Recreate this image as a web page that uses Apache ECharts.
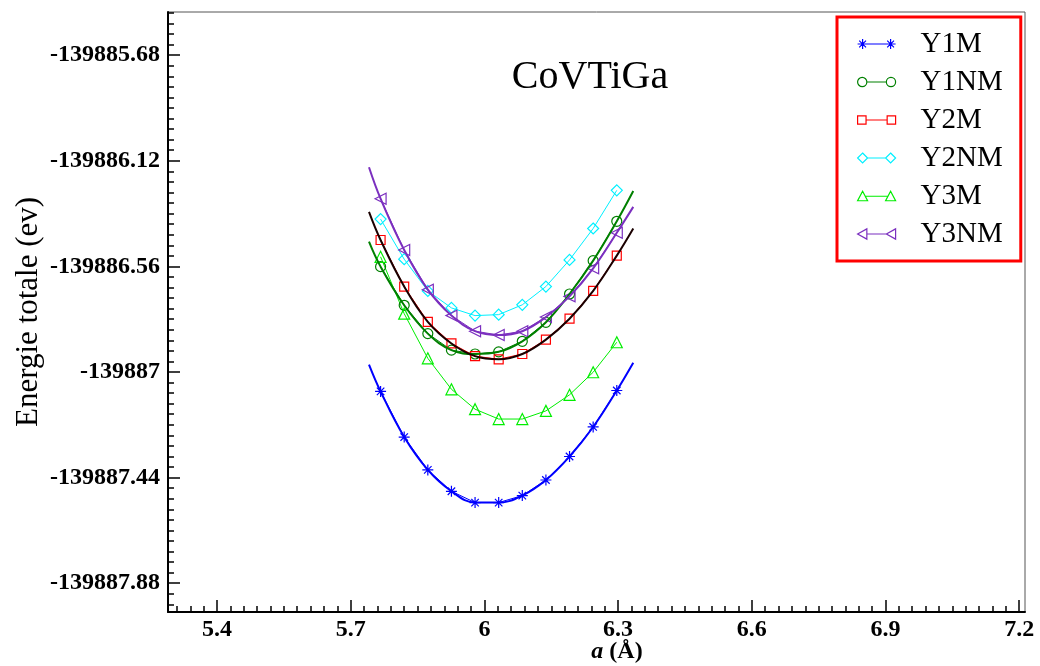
<!DOCTYPE html>
<html>
<head>
<meta charset="utf-8">
<script src="https://cdn.jsdelivr.net/npm/echarts@6/dist/echarts.min.js"></script>
<style>
  html, body { margin: 0; padding: 0; background: #fff; }
  #chart { width: 1040px; height: 666px; }
</style>
</head>
<body>
<div id="chart"></div>
<script>
// lattice parameter a (Å) of the computed points
const xs = [5.767, 5.82, 5.873, 5.926, 5.979, 6.032, 6.085, 6.138, 6.191, 6.244, 6.297];

// total energies (eV)
const y1m  = [-139887.081, -139887.271, -139887.408, -139887.497, -139887.544, -139887.544, -139887.515, -139887.450, -139887.352, -139887.229, -139887.077];
const y1nm = [-139886.561, -139886.722, -139886.840, -139886.909, -139886.925, -139886.916, -139886.872, -139886.793, -139886.675, -139886.536, -139886.372];
const y2m  = [-139886.450, -139886.644, -139886.791, -139886.881, -139886.934, -139886.947, -139886.925, -139886.865, -139886.778, -139886.662, -139886.515];
const y2nm = [-139886.363, -139886.530, -139886.662, -139886.733, -139886.765, -139886.761, -139886.720, -139886.644, -139886.533, -139886.402, -139886.243];
const y3m  = [-139886.520, -139886.757, -139886.943, -139887.072, -139887.155, -139887.196, -139887.196, -139887.162, -139887.095, -139887.001, -139886.876];
const y3nm = [-139886.278, -139886.492, -139886.657, -139886.765, -139886.830, -139886.846, -139886.830, -139886.771, -139886.685, -139886.568, -139886.420];

// fitted curves: ends of each curve, the middle follows the points
const fitX = [5.741, 6.334];
const fitY1m  = [-139886.969, -139886.961];
const fitY1nm = [-139886.457, -139886.246];
const fitY2m  = [-139886.333, -139886.402];
const fitY3nm = [-139886.147, -139886.312];

const xTicks = [5.4, 5.7, 6, 6.3, 6.6, 6.9, 7.2];
const yTicks = [-139887.88, -139887.44, -139887, -139886.56, -139886.12, -139885.68];

const names = ['Y1M', 'Y1NM', 'Y2M', 'Y2NM', 'Y3M', 'Y3NM'];
const colors = ['#0000ff', '#008000', '#ff0000', '#00f0ff', '#00ee00', '#7b2fbf'];

const font = 'Liberation Serif';

// minor ticks, 10 divisions between majors
const xMinor = [];
for (let i = -3; i <= 60; i++) {
  if (i % 10 !== 0) xMinor.push(Math.round((5.4 + i * 0.03) * 1000) / 1000);
}
const yMinor = [];
for (let j = -2; j <= 54; j++) {
  if (j % 10 !== 0) yMinor.push(Math.round((-139887.88 + j * 0.044) * 1000) / 1000);
}

const pts = (ys) => xs.map((x, i) => [x, ys[i]]);
const fitPts = (ends, ys) => [[fitX[0], ends[0]]].concat(pts(ys), [[fitX[1], ends[1]]]);

const star = 'path://M5,0L5,10M0,5L10,5M1.6,1.6L8.4,8.4M1.6,8.4L8.4,1.6';

// legend samples: a short line with the marker at both ends
const legendIcons = [
  'path://M5,0L5,10M0,5L10,5M1.6,1.6L8.4,8.4M1.6,8.4L8.4,1.6M5,5L33,5M33,0L33,10M28,5L38,5M29.6,1.6L36.4,8.4M29.6,8.4L36.4,1.6',
  'path://M0.5,5A4.5,4.5,0,1,1,9.5,5A4.5,4.5,0,1,1,0.5,5ZM9.5,5L28.5,5M28.5,5A4.5,4.5,0,1,1,37.5,5A4.5,4.5,0,1,1,28.5,5Z',
  'path://M1,1L9,1L9,9L1,9ZM9,5L29,5M29,1L37,1L37,9L29,9Z',
  'path://M5,0L10,5L5,10L0,5ZM10,5L28,5M33,0L38,5L33,10L28,5Z',
  'path://M5,0L10,9.5L0,9.5ZM7.4,5L30.6,5M33,0L38,9.5L28,9.5Z',
  'path://M0,5L9,0L9,10ZM9,5L28,5M28,5L37,0L37,10Z'
];

function marks(name, ys, color, symbol, size, rotate) {
  return {
    name: name,
    type: 'line',
    data: pts(ys),
    symbol: symbol,
    symbolSize: size,
    symbolRotate: rotate || 0,
    showAllSymbol: true,
    lineStyle: { color: color, width: 1 },
    itemStyle: { color: symbol === star ? color : 'rgba(0,0,0,0)', borderColor: color, borderWidth: 1.2 },
    emphasis: { disabled: true },
    z: 3
  };
}

function fit(name, ends, ys, color) {
  return {
    name: name,
    type: 'line',
    data: fitPts(ends, ys),
    smooth: 0.4,
    showSymbol: false,
    symbol: 'none',
    lineStyle: { color: color, width: 2 },
    emphasis: { disabled: true },
    z: 4
  };
}

const chart = echarts.init(document.getElementById('chart'));

chart.setOption({
  animation: false,
  backgroundColor: '#fff',
  title: {
    text: 'CoVTiGa',
    left: 585,
    textAlign: 'center',
    top: 52,
    textStyle: { fontFamily: font, fontSize: 40, fontWeight: 'normal', color: '#000' }
  },
  legend: {
    data: names.map((n, i) => ({
      name: n,
      icon: legendIcons[i],
      itemStyle: { color: 'rgba(0,0,0,0)', borderColor: colors[i], borderWidth: 1.2 }
    })),
    orient: 'vertical',
    left: 837,
    top: 17,
    padding: [12, 18, 12, 20],
    itemWidth: 38,
    itemHeight: 11,
    itemGap: 8,
    borderColor: '#ff0000',
    borderWidth: 3,
    backgroundColor: '#fff',
    textStyle: { fontFamily: font, fontSize: 29, color: '#000', padding: [0, 0, 0, 20], lineHeight: 30 }
  },
  grid: {
    left: 168, right: 15, top: 12, bottom: 54,
    outerBoundsMode: 'none',
    containLabel: false,
    show: true, borderColor: '#555', borderWidth: 1
  },
  xAxis: [{
    type: 'value',
    min: 5.29,
    max: 7.213,
    position: 'bottom',
    name: '{i|a} (Å)',
    nameLocation: 'middle',
    nameMoveOverlap: false,
    nameGap: 28,
    nameTextStyle: {
      fontFamily: font, fontSize: 24, fontWeight: 'bold', color: '#000', padding: [0, 0, 0, 41],
      rich: { i: { fontFamily: font, fontSize: 24, fontWeight: 'bold', fontStyle: 'italic', color: '#000' } }
    },
    axisLine: { show: true, onZero: false, lineStyle: { color: '#000', width: 2 } },
    axisTick: { show: true, customValues: xTicks, inside: true, length: 12, lineStyle: { color: '#000', width: 1.5 } },
    axisLabel: {
      customValues: xTicks, margin: 6, color: '#000', fontFamily: font, fontWeight: 'bold', fontSize: 24,
      formatter: (v) => String(+(+v).toFixed(2))
    },
    splitLine: { show: false }
  }, {
    // minor ticks: a top axis moved down onto the bottom edge, ticks pointing up
    type: 'value',
    min: 5.29,
    max: 7.213,
    position: 'top',
    offset: -600,
    axisLine: { show: true, onZero: false, lineStyle: { color: 'rgba(0,0,0,0)' } },
    axisTick: { show: true, customValues: xMinor, inside: false, length: 6, lineStyle: { color: '#000', width: 1.5 } },
    axisLabel: { show: false },
    splitLine: { show: false }
  }],
  yAxis: [{
    type: 'value',
    min: -139888,
    max: -139885.5,
    position: 'left',
    name: 'Energie totale (ev)',
    nameLocation: 'middle',
    nameMoveOverlap: false,
    nameGap: 124,
    nameTextStyle: { fontFamily: font, fontSize: 31, color: '#000' },
    axisLine: { show: true, onZero: false, lineStyle: { color: '#000', width: 2 } },
    axisTick: { show: true, customValues: yTicks, inside: true, length: 12, lineStyle: { color: '#000', width: 1.5 } },
    axisLabel: {
      customValues: yTicks, margin: 8, color: '#000', fontFamily: font, fontWeight: 'bold', fontSize: 24,
      formatter: (v) => String(+(+v).toFixed(2))
    },
    splitLine: { show: false }
  }, {
    // minor ticks: a right axis moved onto the left edge, ticks pointing right
    type: 'value',
    min: -139888,
    max: -139885.5,
    position: 'right',
    offset: -857,
    axisLine: { show: true, onZero: false, lineStyle: { color: 'rgba(0,0,0,0)' } },
    axisTick: { show: true, customValues: yMinor, inside: false, length: 6, lineStyle: { color: '#000', width: 1.5 } },
    axisLabel: { show: false },
    splitLine: { show: false }
  }],
  series: [
    marks(names[0], y1m, colors[0], star, 11),
    marks(names[1], y1nm, colors[1], 'circle', 10),
    marks(names[2], y2m, colors[2], 'rect', 9),
    marks(names[3], y2nm, colors[3], 'diamond', 11),
    marks(names[4], y3m, colors[4], 'triangle', 11),
    marks(names[5], y3nm, colors[5], 'triangle', 11, 90),
    fit('Y1M fit', fitY1m, y1m, colors[0]),
    fit('Y1NM fit', fitY1nm, y1nm, colors[1]),
    fit('Y2M fit', fitY2m, y2m, '#1a0000'),
    fit('Y3NM fit', fitY3nm, y3nm, colors[5])
  ]
});
</script>
</body>
</html>
